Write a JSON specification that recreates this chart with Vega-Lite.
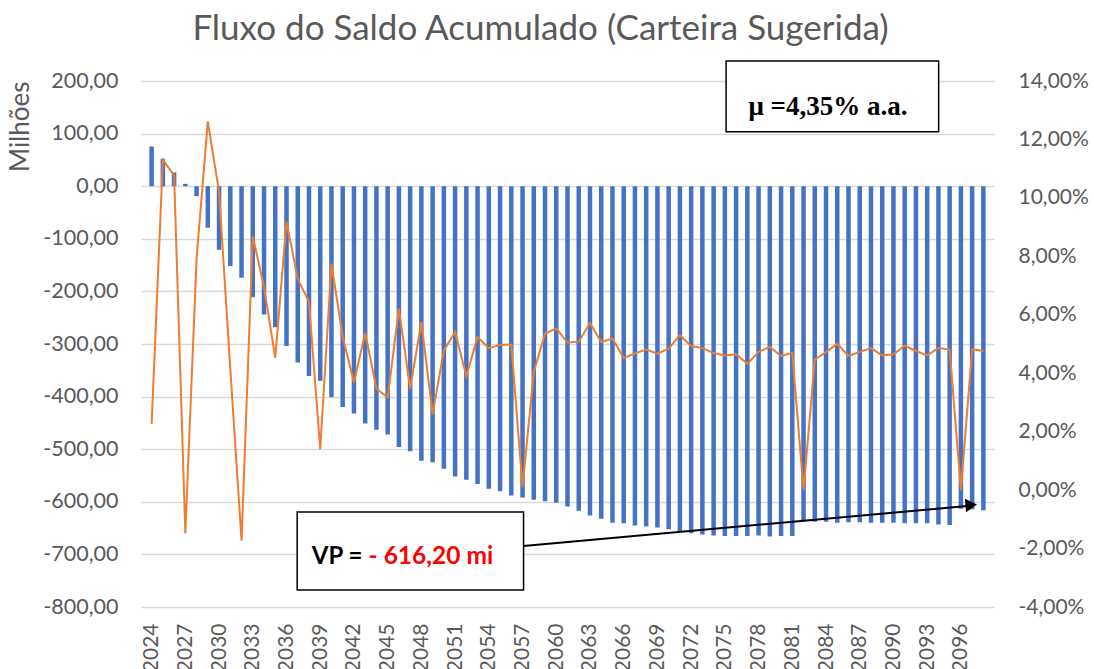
{
  "$schema": "https://vega.github.io/schema/vega-lite/v6.json",
  "autosize": {"type": "none"},
  "padding": {"left": 141, "top": 81, "right": 100, "bottom": 62},
  "width": 853,
  "height": 526,
  "background": "white",
  "title": {
    "text": "Fluxo do Saldo Acumulado (Carteira Sugerida)",
    "font": "Lato",
    "fontSize": 35,
    "fontWeight": "normal",
    "color": "#595959",
    "anchor": "middle",
    "dx": -27,
    "offset": 13
  },
  "config": {
    "view": {"stroke": null},
    "font": "Lato",
    "axis": {"labelOverlap": false},
    "locale": {
      "number": {"decimal": ",", "thousands": ".", "grouping": [3], "currency": ["", ""], "minus": "-"}
    }
  },
  "datasets": {
    "fluxo": [
      {"ano": 2024, "saldo": 75.4, "taxa": 0.0226},
      {"ano": 2025, "saldo": 52, "taxa": 0.1130},
      {"ano": 2026, "saldo": 26, "taxa": 0.1077},
      {"ano": 2027, "saldo": 4.5, "taxa": -0.0148},
      {"ano": 2028, "saldo": -19, "taxa": 0.0793},
      {"ano": 2029, "saldo": -79, "taxa": 0.1262},
      {"ano": 2030, "saldo": -121, "taxa": 0.1020},
      {"ano": 2031, "saldo": -152, "taxa": 0.0415},
      {"ano": 2032, "saldo": -174, "taxa": -0.0173},
      {"ano": 2033, "saldo": -211, "taxa": 0.0869},
      {"ano": 2034, "saldo": -244, "taxa": 0.0695},
      {"ano": 2035, "saldo": -268, "taxa": 0.0453},
      {"ano": 2036, "saldo": -304, "taxa": 0.0919},
      {"ano": 2037, "saldo": -335, "taxa": 0.0723},
      {"ano": 2038, "saldo": -361, "taxa": 0.0644},
      {"ano": 2039, "saldo": -370, "taxa": 0.0140},
      {"ano": 2040, "saldo": -401, "taxa": 0.0775},
      {"ano": 2041, "saldo": -420, "taxa": 0.0525},
      {"ano": 2042, "saldo": -432, "taxa": 0.0368},
      {"ano": 2043, "saldo": -451, "taxa": 0.0539},
      {"ano": 2044, "saldo": -463, "taxa": 0.0347},
      {"ano": 2045, "saldo": -472, "taxa": 0.0317},
      {"ano": 2046, "saldo": -496, "taxa": 0.0621},
      {"ano": 2047, "saldo": -504, "taxa": 0.0347},
      {"ano": 2048, "saldo": -522, "taxa": 0.0575},
      {"ano": 2049, "saldo": -525, "taxa": 0.0259},
      {"ano": 2050, "saldo": -537, "taxa": 0.0478},
      {"ano": 2051, "saldo": -552, "taxa": 0.0541},
      {"ano": 2052, "saldo": -558, "taxa": 0.0390},
      {"ano": 2053, "saldo": -566, "taxa": 0.0524},
      {"ano": 2054, "saldo": -575, "taxa": 0.0486},
      {"ano": 2055, "saldo": -580, "taxa": 0.0497},
      {"ano": 2056, "saldo": -588, "taxa": 0.0498},
      {"ano": 2057, "saldo": -592, "taxa": 0.0010},
      {"ano": 2058, "saldo": -596, "taxa": 0.0404},
      {"ano": 2059, "saldo": -599, "taxa": 0.0536},
      {"ano": 2060, "saldo": -602, "taxa": 0.0553},
      {"ano": 2061, "saldo": -609, "taxa": 0.0505},
      {"ano": 2062, "saldo": -617, "taxa": 0.0508},
      {"ano": 2063, "saldo": -626, "taxa": 0.0572},
      {"ano": 2064, "saldo": -632, "taxa": 0.0507},
      {"ano": 2065, "saldo": -640, "taxa": 0.0519},
      {"ano": 2066, "saldo": -641, "taxa": 0.0452},
      {"ano": 2067, "saldo": -645, "taxa": 0.0468},
      {"ano": 2068, "saldo": -647, "taxa": 0.0481},
      {"ano": 2069, "saldo": -649, "taxa": 0.0467},
      {"ano": 2070, "saldo": -652, "taxa": 0.0484},
      {"ano": 2071, "saldo": -657, "taxa": 0.0530},
      {"ano": 2072, "saldo": -660, "taxa": 0.0493},
      {"ano": 2073, "saldo": -662, "taxa": 0.0486},
      {"ano": 2074, "saldo": -664, "taxa": 0.0469},
      {"ano": 2075, "saldo": -665, "taxa": 0.0461},
      {"ano": 2076, "saldo": -665, "taxa": 0.0465},
      {"ano": 2077, "saldo": -665, "taxa": 0.0432},
      {"ano": 2078, "saldo": -664, "taxa": 0.0473},
      {"ano": 2079, "saldo": -666, "taxa": 0.0490},
      {"ano": 2080, "saldo": -665, "taxa": 0.0459},
      {"ano": 2081, "saldo": -665, "taxa": 0.0469},
      {"ano": 2082, "saldo": -638, "taxa": 0.0000},
      {"ano": 2083, "saldo": -638, "taxa": 0.0447},
      {"ano": 2084, "saldo": -638, "taxa": 0.0472},
      {"ano": 2085, "saldo": -640, "taxa": 0.0501},
      {"ano": 2086, "saldo": -639, "taxa": 0.0459},
      {"ano": 2087, "saldo": -639, "taxa": 0.0473},
      {"ano": 2088, "saldo": -640, "taxa": 0.0486},
      {"ano": 2089, "saldo": -640, "taxa": 0.0461},
      {"ano": 2090, "saldo": -640, "taxa": 0.0465},
      {"ano": 2091, "saldo": -641, "taxa": 0.0494},
      {"ano": 2092, "saldo": -641, "taxa": 0.0476},
      {"ano": 2093, "saldo": -641, "taxa": 0.0461},
      {"ano": 2094, "saldo": -643, "taxa": 0.0486},
      {"ano": 2095, "saldo": -644, "taxa": 0.0481},
      {"ano": 2096, "saldo": -613, "taxa": 0.0000},
      {"ano": 2097, "saldo": -614, "taxa": 0.0482},
      {"ano": 2098, "saldo": -616.2, "taxa": 0.0476}
    ],
    "caixas": [
      {"x1": 2075.11, "x2": 2094.02, "y1": 238.0, "y2": 103.6},
      {"x1": 2036.95, "x2": 2057.09, "y1": -619.4, "y2": -767.7}
    ],
    "seta": [
      {"x1": 2057.09, "y1": -684.0, "x2": 2096.57, "y2": -608.0}
    ],
    "ponta": [
      {"x": 2096.92, "y": -606.1}
    ]
  },
  "layer": [
    {
      "layer": [
        {
          "data": {"name": "fluxo"},
          "mark": {"type": "bar", "size": 4.5, "color": "#4472C4"},
          "encoding": {
            "x": {
              "field": "ano", "type": "quantitative",
              "scale": {"domain": [2023.5, 2098.5], "nice": false, "zero": false},
              "axis": {
                "title": null,
                "values": [2024, 2027, 2030, 2033, 2036, 2039, 2042, 2045, 2048, 2051, 2054, 2057, 2060, 2063, 2066, 2069, 2072, 2075, 2078, 2081, 2084, 2087, 2090, 2093, 2096],
                "tickCount": 100,
                "format": "d",
                "labelAngle": -90,
                "labelFont": "Lato",
                "labelFontSize": 21,
                "labelColor": "#595959",
                "labelPadding": 16,
                "labelOverlap": false,
                "labelFlush": false,
                "ticks": false,
                "domain": false,
                "grid": false
              }
            },
            "y": {
              "field": "saldo", "type": "quantitative",
              "scale": {"domain": [-800, 200], "nice": false},
              "axis": {
                "title": "Milhões",
                "titleFont": "Lato",
                "titleFontSize": 26,
                "titleFontWeight": "normal",
                "titleColor": "#595959",
                "titleAnchor": "end",
                "titlePadding": 9,
                "values": [-800, -700, -600, -500, -400, -300, -200, -100, 0, 100, 200],
                "tickCount": 20,
                "format": ".2f",
                "labelFont": "Lato",
                "labelFontSize": 21.5,
                "labelColor": "#595959",
                "labelPadding": 23,
                "ticks": false,
                "domain": false,
                "grid": true,
                "gridColor": "#D9D9D9",
                "gridWidth": 1.3
              }
            }
          }
        },
        {
          "data": {"name": "caixas"},
          "mark": {"type": "rect", "fill": "white", "stroke": "black", "strokeWidth": 1.5},
          "encoding": {
            "x": {"field": "x1", "type": "quantitative"},
            "x2": {"field": "x2"},
            "y": {"field": "y1", "type": "quantitative"},
            "y2": {"field": "y2"}
          }
        },
        {
          "data": {"name": "seta"},
          "mark": {"type": "rule", "color": "black", "strokeWidth": 2},
          "encoding": {
            "x": {"field": "x1", "type": "quantitative"},
            "x2": {"field": "x2"},
            "y": {"field": "y1", "type": "quantitative"},
            "y2": {"field": "y2"}
          }
        },
        {
          "data": {"name": "ponta"},
          "mark": {"type": "point", "shape": "triangle-right", "filled": true, "color": "black", "opacity": 1, "size": 180, "angle": 355},
          "encoding": {
            "x": {"field": "x", "type": "quantitative"},
            "y": {"field": "y", "type": "quantitative"}
          }
        },
        {
          "data": {"values": [{"x": 2084.17, "y": 150.6, "rotulo": "μ =4,35% a.a."}]},
          "mark": {"type": "text", "font": "Liberation Serif", "fontSize": 27, "fontWeight": "bold", "color": "black", "align": "center", "baseline": "middle"},
          "encoding": {
            "x": {"field": "x", "type": "quantitative"},
            "y": {"field": "y", "type": "quantitative"},
            "text": {"field": "rotulo"}
          }
        },
        {
          "data": {"values": [{"x": 2042.76, "y": -704.9, "rotulo": "VP ="}]},
          "mark": {"type": "text", "font": "Lato", "fontSize": 24, "fontWeight": "bold", "color": "black", "align": "right", "baseline": "middle"},
          "encoding": {
            "x": {"field": "x", "type": "quantitative"},
            "y": {"field": "y", "type": "quantitative"},
            "text": {"field": "rotulo"}
          }
        },
        {
          "data": {"values": [{"x": 2043.3, "y": -704.9, "rotulo": "- 616,20 mi"}]},
          "mark": {"type": "text", "font": "Lato", "fontSize": 24.5, "fontWeight": "bold", "color": "#FF0000", "align": "left", "baseline": "middle"},
          "encoding": {
            "x": {"field": "x", "type": "quantitative"},
            "y": {"field": "y", "type": "quantitative"},
            "text": {"field": "rotulo"}
          }
        }
      ]
    },
    {
      "data": {"name": "fluxo"},
      "mark": {"type": "line", "color": "#ED7D31", "strokeWidth": 2},
      "encoding": {
        "x": {
          "field": "ano", "type": "quantitative",
          "axis": {
            "title": null,
            "values": [2024, 2027, 2030, 2033, 2036, 2039, 2042, 2045, 2048, 2051, 2054, 2057, 2060, 2063, 2066, 2069, 2072, 2075, 2078, 2081, 2084, 2087, 2090, 2093, 2096],
            "tickCount": 100,
            "format": "d",
            "labelAngle": -90,
            "labelFont": "Lato",
            "labelFontSize": 21,
            "labelColor": "#595959",
            "labelPadding": 16,
            "labelOverlap": false,
            "labelFlush": false,
            "ticks": false,
            "domain": false,
            "grid": false
          }
        },
        "y": {
          "field": "taxa", "type": "quantitative",
          "scale": {"domain": [-0.04, 0.14], "nice": false},
          "axis": {
            "orient": "right",
            "title": null,
            "values": [-0.04, -0.02, 0, 0.02, 0.04, 0.06, 0.08, 0.1, 0.12, 0.14],
            "tickCount": 20,
            "format": ".2%",
            "labelFont": "Lato",
            "labelFontSize": 21,
            "labelColor": "#595959",
            "labelPadding": 24,
            "ticks": false,
            "domain": false,
            "grid": false
          }
        }
      }
    }
  ],
  "resolve": {"scale": {"y": "independent"}}
}
